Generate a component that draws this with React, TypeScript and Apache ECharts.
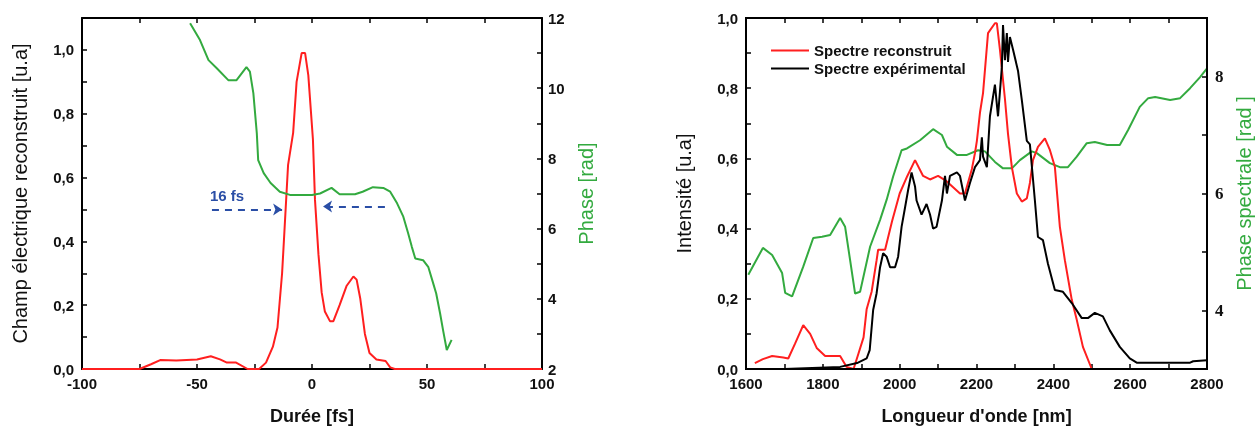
import React, { useEffect, useRef } from "react";
import * as echarts from "echarts";

// ---- Left chart: reconstructed electric field (u.a) vs time (fs)
const fieldTime = [-100, -75, -70, -66, -59, -50, -44, -40, -37, -33, -28, -23, -20, -17, -15, -13, -12, -10.4, -8.2, -6.7, -4.5, -3, -1.6, 0.4, 1.3, 2.8, 4.2, 5.6, 7.8, 9.3, 12, 15, 18, 19.4, 21, 23, 25, 28, 32, 34, 36, 100];
const fieldValue = [0, 0, 0.015, 0.028, 0.027, 0.03, 0.04, 0.03, 0.02, 0.02, 0, 0, 0.02, 0.07, 0.13, 0.3, 0.43, 0.64, 0.74, 0.9, 0.99, 0.99, 0.92, 0.72, 0.53, 0.36, 0.24, 0.18, 0.15, 0.15, 0.2, 0.26, 0.29, 0.28, 0.22, 0.11, 0.05, 0.03, 0.025, 0.005, 0, 0];

// ---- Left chart: temporal phase (rad)
const phaseTime = [-53, -48.7, -45, -41.4, -36.4, -32.8, -28.5, -27, -25.5, -24, -23.4, -21, -18, -14, -9.6, 0, 3.5, 8.5, 12, 18.7, 22, 26.5, 31, 34, 37, 39.7, 41.8, 43.4, 44.9, 48.3, 50.6, 52.7, 54, 55.7, 57, 58.6, 60.7];
const phaseValue = [11.85, 11.37, 10.8, 10.57, 10.23, 10.23, 10.6, 10.47, 9.86, 8.72, 7.95, 7.58, 7.3, 7.05, 6.96, 6.96, 7.0, 7.16, 6.98, 6.98, 7.05, 7.18, 7.16, 7.05, 6.72, 6.34, 5.87, 5.48, 5.15, 5.1, 4.9, 4.44, 4.15, 3.58, 3.1, 2.54, 2.83];

// ---- FWHM annotation (16 fs)
const fwhmLabel = "16 fs";
const fwhmLeft = [[-43.5, 0.5], [-13, 0.5]];
const fwhmRight = [[31.7, 0.509], [4.8, 0.509]];

// ---- Right chart: reconstructed spectrum
const recWl = [1623, 1644, 1668, 1697, 1710, 1728, 1749, 1767, 1784, 1806, 1845, 1862, 1880, 1893, 1906, 1914, 1927, 1940, 1944, 1962, 1980, 2000, 2020, 2040, 2061, 2079, 2100, 2122, 2157, 2170, 2188, 2196, 2201, 2209, 2217, 2230, 2248, 2253, 2261, 2274, 2282, 2292, 2305, 2318, 2331, 2339, 2347, 2360, 2378, 2391, 2404, 2417, 2430, 2448, 2461, 2477, 2500, 2800];
const recValue = [0.017, 0.028, 0.037, 0.033, 0.03, 0.073, 0.125, 0.1, 0.06, 0.037, 0.037, 0.006, 0, 0.045, 0.09, 0.17, 0.22, 0.31, 0.34, 0.34, 0.42, 0.5, 0.55, 0.595, 0.55, 0.54, 0.55, 0.535, 0.5, 0.5, 0.57, 0.615, 0.65, 0.73, 0.786, 0.957, 0.985, 0.985, 0.91, 0.77, 0.67, 0.575, 0.5, 0.477, 0.486, 0.53, 0.595, 0.633, 0.657, 0.624, 0.576, 0.405, 0.31, 0.197, 0.14, 0.063, 0, 0];

// ---- Right chart: experimental spectrum
const expWl = [1700, 1845, 1889, 1914, 1922, 1931, 1940, 1949, 1957, 1966, 1975, 1988, 1996, 2005, 2014, 2022, 2031, 2040, 2044, 2057, 2070, 2079, 2087, 2096, 2110, 2118, 2123, 2131, 2149, 2157, 2170, 2183, 2196, 2209, 2214, 2217, 2227, 2235, 2248, 2256, 2266, 2269, 2274, 2279, 2282, 2287, 2295, 2308, 2318, 2331, 2339, 2352, 2360, 2373, 2386, 2404, 2425, 2448, 2474, 2490, 2508, 2529, 2547, 2573, 2599, 2617, 2756, 2764, 2800];
const expValue = [0, 0.006, 0.017, 0.03, 0.054, 0.168, 0.216, 0.29, 0.33, 0.32, 0.29, 0.29, 0.32, 0.405, 0.46, 0.51, 0.56, 0.52, 0.48, 0.44, 0.47, 0.44, 0.4, 0.405, 0.48, 0.55, 0.5, 0.55, 0.56, 0.55, 0.48, 0.53, 0.575, 0.595, 0.66, 0.605, 0.575, 0.72, 0.81, 0.72, 0.86, 0.98, 0.88, 0.957, 0.875, 0.946, 0.91, 0.85, 0.766, 0.65, 0.64, 0.48, 0.376, 0.367, 0.3, 0.225, 0.22, 0.188, 0.145, 0.145, 0.16, 0.15, 0.11, 0.063, 0.03, 0.018, 0.018, 0.022, 0.025];

// ---- Right chart: spectral phase (rad)
const specWl = [1606, 1644, 1668, 1694, 1702, 1720, 1749, 1775, 1798, 1819, 1845, 1858, 1871, 1884, 1897, 1923, 1949, 1966, 1983, 2005, 2019, 2053, 2087, 2110, 2123, 2149, 2175, 2204, 2222, 2248, 2269, 2292, 2313, 2344, 2357, 2391, 2417, 2438, 2461, 2487, 2508, 2540, 2573, 2595, 2625, 2647, 2665, 2704, 2730, 2756, 2782, 2800];
const specPhase = [4.61, 5.07, 4.95, 4.64, 4.3, 4.24, 4.75, 5.24, 5.26, 5.29, 5.58, 5.43, 4.86, 4.29, 4.32, 5.09, 5.55, 5.89, 6.29, 6.74, 6.77, 6.91, 7.1, 7.0, 6.8, 6.66, 6.66, 6.74, 6.72, 6.54, 6.43, 6.43, 6.57, 6.72, 6.69, 6.52, 6.45, 6.45, 6.63, 6.86, 6.88, 6.83, 6.83, 7.09, 7.48, 7.63, 7.65, 7.6, 7.63, 7.8, 7.99, 8.14];

const legendNames = ["Spectre reconstruit", "Spectre expérimental"];

const RED = "#ff1f1f";
const GREEN = "#33aa3f";
const BLACK = "#000000";
const BLUE = "#2a4ea6";
const SANS = "Liberation Sans";
const SERIF = "Liberation Serif";

const zip = (xs: number[], ys: number[]) => xs.map((x, i) => [x, ys[i]]);

const mkLine = () => ({ show: true, onZero: false, lineStyle: { color: "#000", width: 2 } });
const mkTick = () => ({ show: true, inside: true, length: 5, lineStyle: { color: "#000", width: 1.5 } });
const tickLabel = () => ({ fontFamily: SANS, fontWeight: "bold", fontSize: 15, color: "#111" });
const decimalFmt = (v: number) => {
  const t = Math.round(v * 10);
  return t % 2 === 0 ? (t / 10).toFixed(1).replace(".", ",") : "";
};
const evenFmt = (step: number) => (v: number) => (Math.round(v) % step === 0 ? String(Math.round(v)) : "");

function leftOption() {
  return {
    animation: false,
    grid: { left: 82, right: 88, top: 18, bottom: 59, outerBoundsMode: "none" },
    xAxis: [
      {
        type: "value", min: -100, max: 100, interval: 25,
        axisLine: mkLine(), axisTick: mkTick(), splitLine: { show: false },
        axisLabel: { ...tickLabel(), margin: 7, formatter: evenFmt(50) },
        name: "Durée [fs]", nameLocation: "middle", nameGap: 38,
        nameTextStyle: { fontFamily: SANS, fontWeight: "bold", fontSize: 18, color: "#111" },
      },
      {
        type: "value", min: -100, max: 100, interval: 25,
        axisLine: mkLine(), axisTick: mkTick(), splitLine: { show: false }, axisLabel: { show: false },
      },
    ],
    yAxis: [
      {
        type: "value", min: 0, max: 1.1, interval: 0.1,
        axisLine: mkLine(), axisTick: mkTick(), splitLine: { show: false },
        axisLabel: { ...tickLabel(), margin: 8, formatter: decimalFmt },
        name: "Champ électrique reconstruit [u.a]", nameLocation: "middle", nameGap: 52, nameRotate: 90,
        nameTextStyle: { fontFamily: SANS, fontSize: 20, color: "#111" },
      },
      {
        type: "value", min: 2, max: 12, interval: 1,
        axisLine: mkLine(), axisTick: mkTick(), splitLine: { show: false },
        axisLabel: { ...tickLabel(), margin: 6, formatter: evenFmt(2) },
        name: "Phase [rad]", nameLocation: "middle", nameGap: 31, nameRotate: 90,
        nameTextStyle: { fontFamily: SANS, fontSize: 20, color: GREEN },
      },
    ],
    series: [
      {
        type: "line", name: "Champ", xAxisIndex: 0, yAxisIndex: 0, data: zip(fieldTime, fieldValue),
        showSymbol: false, lineStyle: { color: RED, width: 2 }, itemStyle: { color: RED },
        markLine: {
          silent: true,
          symbol: ["none", "arrow"],
          symbolSize: [9, 9],
          lineStyle: { color: BLUE, width: 2, type: [7, 6] },
          label: { show: false },
          data: [
            [
              {
                coord: fwhmLeft[0],
                label: {
                  show: true, formatter: fwhmLabel, position: "insideStartTop", distance: [-2, 6],
                  color: BLUE, fontFamily: SANS, fontWeight: "bold", fontSize: 15,
                },
              },
              { coord: fwhmLeft[1] },
            ],
            [{ coord: fwhmRight[0] }, { coord: fwhmRight[1] }],
          ],
        },
      },
      {
        type: "line", name: "Phase", xAxisIndex: 0, yAxisIndex: 1, data: zip(phaseTime, phaseValue),
        showSymbol: false, lineStyle: { color: GREEN, width: 2 }, itemStyle: { color: GREEN },
      },
    ],
  };
}

function rightOption() {
  return {
    animation: false,
    grid: { left: 116, right: 53, top: 18, bottom: 59, outerBoundsMode: "none" },
    graphic: [
      {
        type: "rect", silent: true, z: 100,
        shape: { x: 116, y: 18, width: 461, height: 351 },
        style: { stroke: "#000", lineWidth: 2, fill: "none" },
      },
    ],
    legend: {
      data: legendNames,
      orient: "vertical",
      left: 136,
      top: 38,
      icon: "rect",
      itemWidth: 38,
      itemHeight: 2,
      itemGap: 3,
      textStyle: { fontFamily: SANS, fontWeight: "bold", fontSize: 15, color: "#111" },
    },
    xAxis: [
      {
        type: "value", min: 1600, max: 2800, interval: 100,
        axisLine: mkLine(), axisTick: mkTick(), splitLine: { show: false },
        axisLabel: { ...tickLabel(), margin: 7, formatter: evenFmt(200) },
        name: "Longueur d'onde [nm]", nameLocation: "middle", nameGap: 38,
        nameTextStyle: { fontFamily: SANS, fontWeight: "bold", fontSize: 18, color: "#111" },
      },
      {
        type: "value", min: 1600, max: 2800, interval: 100,
        axisLine: mkLine(), axisTick: mkTick(), splitLine: { show: false }, axisLabel: { show: false },
      },
    ],
    yAxis: [
      {
        type: "value", min: 0, max: 1, interval: 0.1,
        axisLine: mkLine(), axisTick: mkTick(), splitLine: { show: false },
        axisLabel: { ...tickLabel(), margin: 8, formatter: decimalFmt },
        name: "Intensité [u.a]", nameLocation: "middle", nameGap: 52, nameRotate: 90,
        nameTextStyle: { fontFamily: SANS, fontSize: 20, color: "#111" },
      },
      {
        type: "value", min: 3, max: 9, interval: 1,
        axisLine: mkLine(), axisTick: mkTick(), splitLine: { show: false },
        axisLabel: { fontFamily: SERIF, fontWeight: "bold", fontSize: 17, color: "#111", margin: 8, formatter: evenFmt(2) },
        name: "Phase spectrale [rad ]", nameLocation: "middle", nameGap: 25, nameRotate: 90,
        nameTextStyle: { fontFamily: SANS, fontSize: 20, color: GREEN },
      },
    ],
    series: [
      {
        type: "line", name: legendNames[0], xAxisIndex: 0, yAxisIndex: 0, data: zip(recWl, recValue),
        showSymbol: false, lineStyle: { color: RED, width: 2 }, itemStyle: { color: RED },
      },
      {
        type: "line", name: legendNames[1], xAxisIndex: 0, yAxisIndex: 0, data: zip(expWl, expValue),
        showSymbol: false, lineStyle: { color: BLACK, width: 2 }, itemStyle: { color: BLACK },
      },
      {
        type: "line", name: "Phase spectrale", xAxisIndex: 0, yAxisIndex: 1, data: zip(specWl, specPhase),
        showSymbol: false, z: 1, lineStyle: { color: GREEN, width: 2 }, itemStyle: { color: GREEN },
      },
    ],
  };
}

function Panel({ left, build }: { left: number; build: () => any }) {
  const ref = useRef<HTMLDivElement>(null);
  useEffect(() => {
    if (!ref.current) return;
    const chart = echarts.init(ref.current, undefined, { renderer: "svg" });
    chart.setOption(build());
    return () => chart.dispose();
  }, [build]);
  return <div ref={ref} style={{ position: "fixed", left, top: 0, width: 630, height: 428 }} />;
}

export default function App() {
  return (
    <>
      <Panel left={0} build={leftOption} />
      <Panel left={630} build={rightOption} />
    </>
  );
}
